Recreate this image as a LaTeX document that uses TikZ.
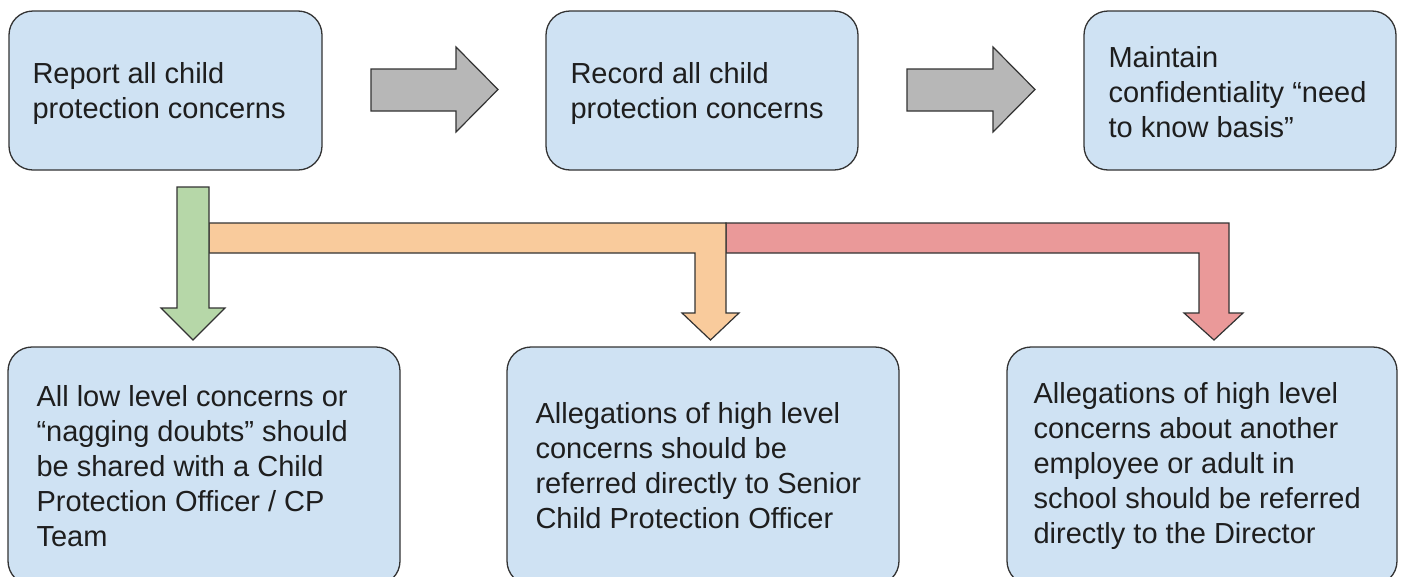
\documentclass[tikz,border=0pt]{standalone}
\usepackage{fontspec}
\setmainfont{Liberation Sans}
\usetikzlibrary{calc}
\definecolor{boxfill}{HTML}{CFE2F3}
\definecolor{edge}{HTML}{333333}
\definecolor{grayarr}{HTML}{B7B7B7}
\definecolor{greenarr}{HTML}{B6D7A8}
\definecolor{orangearr}{HTML}{F9CB9C}
\definecolor{redarr}{HTML}{EA9999}
\definecolor{ink}{HTML}{1E1E1E}
\tikzset{
  box/.style={draw=edge, fill=boxfill, line width=1.3pt, rounded corners=24pt, inner sep=0pt},
  topbox/.style={box, minimum width=312pt, minimum height=159pt},
  botbox/.style={box, minimum width=392pt, minimum height=238pt},
  txt/.style={align=left, inner sep=0pt, text=ink, font=\fontsize{29}{35}\selectfont, anchor=west},
  blk/.style={draw=edge, line width=1.2pt, line join=miter},
}
\begin{document}
\begin{tikzpicture}[x=1pt,y=-1pt]
\clip (0,0) rectangle (1402,576);
\fill[white] (0,0) rectangle (1402,576);

% top row boxes
\node[topbox, minimum width=313pt] (b1) at (165.5,90.5) {};
\node[topbox] (b2) at (702,90.5) {};
\node[topbox] (b3) at (1240,90.5) {};
\node[txt] (t1) at ([xshift=24pt,yshift=-3pt]b1.west) {Report all child\\protection concerns};
\node[txt] (t2) at ([xshift=25pt,yshift=-3pt]b2.west) {Record all child\\protection concerns};
\node[txt] (t3) at ([xshift=25pt,yshift=-2pt]b3.west) {Maintain\\confidentiality “need\\to know basis”};

% bottom row boxes
\node[botbox] (c1) at (204,466) {};
\node[botbox] (c2) at (703,466) {};
\node[botbox, minimum width=390pt] (c3) at (1202,466) {};
\node[txt] (u1) at ([xshift=29pt]c1.west) {All low level concerns or\\“nagging doubts” should\\be shared with a Child\\Protection Officer / CP\\Team};
\node[txt] (u2) at ([xshift=29pt]c2.west) {Allegations of high level\\concerns should be\\referred directly to Senior\\Child Protection Officer};
\node[txt] (u3) at ([xshift=27pt]c3.west) {Allegations of high level\\concerns about another\\employee or adult in\\school should be referred\\directly to the Director};

% gray block arrows between top boxes
\draw[blk, fill=grayarr] (371,69) -- (456,69) -- (456,47) -- (498,89.5) -- (456,132) -- (456,111) -- (371,111) -- cycle;
\draw[blk, fill=grayarr] (907,69) -- (993,69) -- (993,47) -- (1035,89.5) -- (993,132) -- (993,111) -- (907,111) -- cycle;

% red branch
\draw[blk, fill=redarr] (726,223) -- (1229,223) -- (1229,313) -- (1243,313) -- (1214,340) -- (1184,313) -- (1199,313) -- (1199,253) -- (726,253) -- cycle;
% orange branch
\draw[blk, fill=orangearr] (209,223) -- (726,223) -- (726,313) -- (739,313) -- (710.5,340) -- (682,313) -- (695,313) -- (695,253) -- (209,253) -- cycle;
% green arrow
\draw[blk, fill=greenarr] (177,187) -- (209,187) -- (209,308) -- (225,308) -- (193,340) -- (161,308) -- (177,308) -- cycle;
\end{tikzpicture}
\end{document}
